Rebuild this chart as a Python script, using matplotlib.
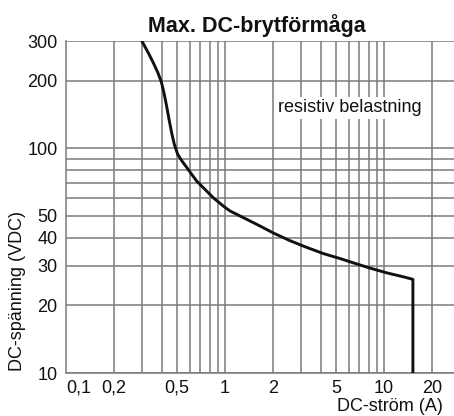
import matplotlib
matplotlib.use("Agg")
import matplotlib.pyplot as plt
from matplotlib.ticker import FixedLocator, FixedFormatter, NullFormatter

plt.rcParams['font.family'] = ['Liberation Sans', 'DejaVu Sans']

# Data
current_a = [0.30, 0.329, 0.354, 0.377, 0.398, 0.415, 0.430, 0.445, 0.462, 0.480, 0.504,
             0.535, 0.574, 0.615, 0.664, 0.731, 0.844, 0.976, 1.075, 1.24, 1.58, 2.01,
             2.56, 3.27, 4.15, 5.29, 6.42, 8.16, 10.4, 13.2, 15.2, 15.2]
voltage_v = [300, 266, 240, 218, 197, 174, 153, 134, 117, 104, 94,
             87.9, 82.2, 76.8, 71.4, 66.7, 60.2, 55.3, 52.6, 50, 45.9, 42.0,
             38.8, 36.2, 34.0, 32.3, 30.9, 29.3, 27.9, 26.8, 26.1, 10]

x_ticks = [0.1, 0.2, 0.5, 1, 2, 5, 10, 20]
x_labels = ["0,1", "0,2", "0,5", "1", "2", "5", "10", "20"]
x_grid = [0.2, 0.3, 0.4, 0.5, 0.6, 0.7, 0.8, 0.9, 1, 2, 3, 4, 5, 6, 7, 8, 9, 10, 20]
y_ticks = [10, 20, 30, 40, 50, 100, 200, 300]
y_labels = ["10", "20", "30", "40", "50", "100", "200", "300"]
y_grid = [10, 20, 30, 40, 50, 60, 70, 80, 90, 100, 200, 300]

W, H = 454, 416
fig = plt.figure(figsize=(W / 100, H / 100), dpi=100)
left, right, top, bottom = 66, 454, 41, 373
ax = fig.add_axes([left / W, 1 - bottom / H, (right - left) / W, (bottom - top) / H])
ax.set_xscale('log')
ax.set_yscale('log')
ax.set_xlim(0.1, 10 ** ((right - left) / 159 - 1))
ax.set_ylim(10, 300)

gcol = '#7a7a7a'
for xv in x_grid:
    ax.axvline(xv, color=gcol, lw=1.1, zorder=1)
for yv in y_grid:
    ax.axhline(yv, color=gcol, lw=1.1, zorder=1)

ax.plot(current_a, voltage_v, color='#111111', lw=2.1, zorder=3, solid_joinstyle='round')

ax.xaxis.set_major_locator(FixedLocator(x_ticks))
ax.xaxis.set_major_formatter(FixedFormatter(x_labels))
ax.xaxis.set_minor_locator(FixedLocator([]))
ax.xaxis.set_minor_formatter(NullFormatter())
ax.yaxis.set_major_locator(FixedLocator(y_ticks))
ax.yaxis.set_major_formatter(FixedFormatter(y_labels))
ax.yaxis.set_minor_locator(FixedLocator([]))
ax.yaxis.set_minor_formatter(NullFormatter())
ax.tick_params(axis='both', length=0, labelsize=13, colors='#111111')
ax.tick_params(axis='x', pad=5)
ax.tick_params(axis='y', pad=6)
lbls = ax.get_xticklabels()
lbls[0].set_horizontalalignment('left')

for s in ['top', 'right']:
    ax.spines[s].set_visible(False)
for s in ['left', 'bottom']:
    ax.spines[s].set_color(gcol)
    ax.spines[s].set_linewidth(1.1)

fig.text(257 / W, 1 - 32 / H, "Max. DC-brytförmåga", ha='center', va='baseline',
         fontsize=15.5, fontweight='bold', color='#111111')
fig.text(350 / W, 1 - 108 / H, "resistiv belastning", ha='center', va='center',
         fontsize=13, color='#111111', zorder=4,
         bbox=dict(facecolor='white', edgecolor='none', pad=1.5))
fig.text(18 / W, 1 - 291 / H, "DC-spänning (VDC)", rotation=90, ha='center', va='center',
         fontsize=13, color='#111111')
fig.text(443 / W, 1 - 415 / H, "DC-ström (A)", ha='right', va='bottom', fontsize=13, color='#111111')

fig.savefig("out.png", dpi=100)
